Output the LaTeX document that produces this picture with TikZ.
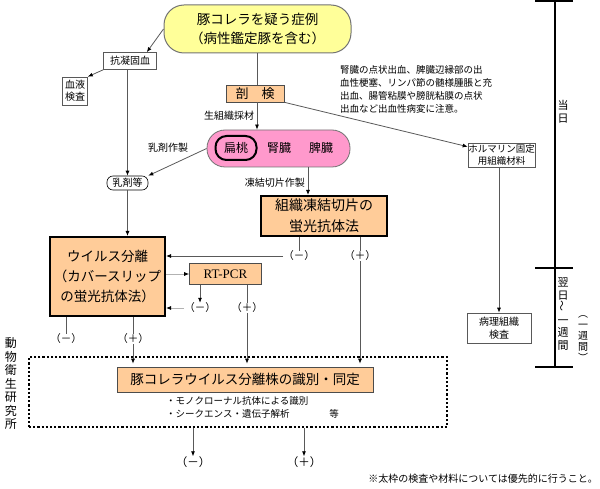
\documentclass[tikz,border=0pt]{standalone}
\usepackage{fontspec}
\setmainfont{Noto Sans CJK JP}
\newfontfamily\pcrfont{Liberation Serif}
\usetikzlibrary{arrows.meta}

\definecolor{caseyellow}{HTML}{FFFF99}
\definecolor{testorange}{HTML}{FFCC99}
\definecolor{organpink}{HTML}{FF99CC}

\begin{document}
\begin{tikzpicture}[x=1pt, y=-1pt,
  every node/.style={inner sep=0pt, align=center, font=\fontsize{10}{12}\selectfont},
  casebox/.style={draw=black!55, line width=1pt, fill=caseyellow, rounded corners=20pt,
    font=\fontsize{13.5}{19}\selectfont},
  thinbox/.style={draw=black!65, line width=0.6pt, fill=white},
  testbox/.style={draw=black!70, line width=0.6pt, fill=testorange},
  keybox/.style={draw=black, line width=2pt, fill=testorange},
  organbox/.style={draw=black!55, line width=0.8pt, fill=organpink, rounded corners=18pt},
  sign/.style={font=\fontsize{10.5}{12}\selectfont},
  vtext/.style={font=\fontsize{11}{12.5}\selectfont},
  line/.style={draw=black!65, line width=0.8pt},
  conn/.style={line, -{Latex[length=5pt, width=4pt, color=black]}},
  softconn/.style={draw=black!30, line width=0.8pt, -{Latex[length=5pt, width=4pt, color=black]}},
  timeline/.style={draw=black, line width=1.6pt}]
  \useasboundingbox (0,0) rectangle (600,489);

  % top of the flow
  \node[casebox, minimum width=187pt, minimum height=48pt] (case) at (257.5,29) {豚コレラを疑う症例\\（病性鑑定豚を含む）};
  \node[thinbox, minimum width=53pt, minimum height=17pt] (serum) at (130,61) {抗凝固血};
  \node[thinbox, minimum width=25pt, minimum height=28pt] (blood) at (75,91) {血液\\検査};
  \node[testbox, minimum width=58pt, minimum height=17pt, font=\fontsize{13}{15}\selectfont] (autopsy) at (255,93.5) {剖　検};
  \node[anchor=north west, align=left, font=\fontsize{9.5}{13}\selectfont] (notice) at (340,65)
    {腎臓の点状出血、脾臓辺縁部の出\\血性梗塞、リンパ節の髄様腫脹と充\\出血、腸管粘膜や膀胱粘膜の点状\\出血など出血性病変に注意。};
  \node (sampling) at (229,116) {生組織採材};

  % organs
  \node[organbox, minimum width=143pt, minimum height=37pt] (organs) at (278.5,148.5) {};
  \node[draw=black, line width=2pt, rounded corners=11pt, minimum width=41pt, minimum height=24pt,
    font=\fontsize{12}{14}\selectfont] (tonsil) at (236,148) {扁桃};
  \node[font=\fontsize{12}{14}\selectfont] (kidney) at (279,148) {腎臓};
  \node[font=\fontsize{12}{14}\selectfont] (spleen) at (321,148) {脾臓};
  \node (emulprep) at (168,148) {乳剤作製};
  \node[thinbox, draw=black, rounded corners=6pt, minimum width=41pt, minimum height=14pt] (emulsion) at (127.5,183) {乳剤等};
  \node[anchor=east] (frozenprep) at (305,183) {凍結切片作製};

  % tests
  \node[keybox, minimum width=126pt, minimum height=40pt, font=\fontsize{14}{21}\selectfont] (fa) at (324,216) {組織凍結切片の\\蛍光抗体法};
  \node[sign] (faneg) at (299,256) {（－）};
  \node[sign] (fapos) at (360,256) {（＋）};
  \node[keybox, minimum width=115pt, minimum height=79pt, font=\fontsize{13.5}{20}\selectfont] (virus) at (107.5,276.5) {ウイルス分離\\（カバースリップ\\の蛍光抗体法）};
  \node[testbox, minimum width=72pt, minimum height=21pt, font=\pcrfont\fontsize{13}{15}\selectfont] (pcr) at (225.5,274) {RT-PCR};
  \node[sign] (pcrneg) at (200,308) {（－）};
  \node[sign] (pcrpos) at (247,308) {（＋）};
  \node[sign] (vneg) at (66,339) {（－）};
  \node[sign] (vpos) at (133,339) {（＋）};

  % laboratory
  \node[draw=black, line width=2.2pt, dotted, minimum width=418pt, minimum height=70pt] (lab) at (238,392) {};
  \node[testbox, minimum width=256pt, minimum height=25pt, font=\fontsize{13.5}{15}\selectfont] (ident) at (245,379.5) {豚コレラウイルス分離株の識別・同定};
  \node[anchor=north west, align=left, font=\fontsize{9.5}{13}\selectfont] (methods) at (166,396)
    {・モノクローナル抗体による識別\\・シークエンス・遺伝子解析\hspace{4.2em}等};
  \node[sign, font=\fontsize{11.5}{13}\selectfont] (labneg) at (193,462) {（－）};
  \node[sign, font=\fontsize{11.5}{13}\selectfont] (labpos) at (304,462) {（＋）};
  \node[vtext, font=\fontsize{12}{13.5}\selectfont] (niah) at (11,384) {動\\物\\衛\\生\\研\\究\\所};
  \node[anchor=east] (remark) at (598,479) {※太枠の検査や材料については優先的に行うこと。};

  % fixed tissue
  \node[thinbox, minimum width=67pt, minimum height=24pt, font=\fontsize{9.5}{11.5}\selectfont] (formalin) at (501.5,155) {ホルマリン固定\\用組織材料};
  \node[thinbox, minimum width=64pt, minimum height=30pt, font=\fontsize{10}{13}\selectfont] (patho) at (499,328) {病理組織\\検査};

  % time scale
  \draw[timeline] (555,0) -- (555,368);
  \draw[timeline] (535,1) -- (573,1);
  \draw[timeline] (535,268) -- (573,268);
  \draw[timeline] (535,367) -- (573,367);
  \node[vtext] (today) at (563,112) {当\\日};
  \node[vtext] (nextday) at (563,314) {翌\\日\\\rotatebox{90}{～}\\一\\週\\間};
  \node[vtext, font=\fontsize{10}{11}\selectfont] (oneweek) at (583,339) {︵\\一\\週\\間\\︶};

  % connectors
  \draw[conn] (case.west) -- ([xshift=-10pt]serum.north east);
  \draw[conn] (serum.south west) -- (blood.north east);
  \draw[conn] (serum.south -| emulsion.north) -- (emulsion.north);
  \draw[line] (case.south) -- (case.south |- autopsy.north);
  \draw[conn] (autopsy.south east) -- ([yshift=-4pt]formalin.north west);
  \draw[conn] ([xshift=2pt]autopsy.south) -- ([xshift=2pt]autopsy.south |- organs.north);
  \draw[conn] (organs.west) -- (emulsion.north east);
  \draw[conn] ([xshift=-16pt]fa.north |- organs.south) -- ([xshift=-16pt]fa.north);
  \draw[conn] (emulsion.south) -- (emulsion.south |- virus.north);
  \draw[line] (fa.south -| faneg) -- (faneg.north);
  \draw[line] (fa.south -| fapos) -- (fapos.north);
  \draw[conn] (faneg.west) -- (faneg.west -| virus.east);
  \draw[conn] (fapos.south) -- ([yshift=3pt]fapos.south |- ident.north);
  \draw[softconn] (virus.east |- pcr.west) -- (pcr.west);
  \draw[conn] (pcr.south -| pcrneg) -- (pcrneg.north);
  \draw[softconn] (pcrneg.west) -- (pcrneg.west -| virus.east);
  \draw[line] (pcr.south -| pcrpos) -- (pcrpos.north);
  \draw[conn] (pcrpos.south) -- ([yshift=3pt]pcrpos.south |- ident.north);
  \draw[line] (virus.south -| vneg) -- (vneg.north);
  \draw[line] (virus.south -| vpos) -- (vpos.north);
  \draw[conn] (vpos.south) -- ([yshift=3pt]vpos.south |- ident.north);
  \draw[conn] (lab.south -| labneg) -- (labneg.north);
  \draw[conn] (lab.south -| labpos) -- (labpos.north);
  \draw[conn] (formalin.south -| patho.north) -- (patho.north);
\end{tikzpicture}
\end{document}
